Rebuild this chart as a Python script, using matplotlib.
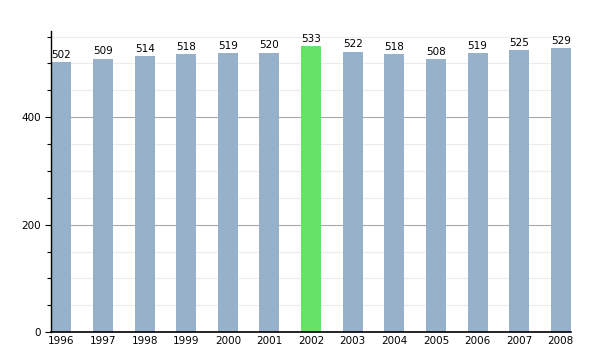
import matplotlib
matplotlib.use('Agg')
import matplotlib.pyplot as plt
from matplotlib.ticker import MultipleLocator

# population by year
years = ['1996', '1997', '1998', '1999', '2000', '2001', '2002',
         '2003', '2004', '2005', '2006', '2007', '2008']
population = [502, 509, 514, 518, 519, 520, 533, 522, 518, 508, 519, 525, 529]
highlight = '2002'

bar_color = '#98b1cb'
hl_color = '#66e366'
colors = [hl_color if y == highlight else bar_color for y in years]

fig = plt.figure(figsize=(6, 3.5), dpi=100)
ax = fig.add_axes([0.085, 0.051, 0.867, 0.86])

x = range(len(years))
ax.bar(x, population, width=0.48, color=colors, zorder=3)
for i, v in zip(x, population):
    ax.text(i, v + 4, str(v), ha='center', va='bottom', fontsize=7.5, zorder=4)

ax.set_xlim(-0.25, len(years) - 0.75)
ax.set_ylim(0, 560)
ax.set_xticks(list(x))
ax.set_xticklabels(years, fontsize=7.5)
ax.yaxis.set_major_locator(MultipleLocator(200))
ax.yaxis.set_minor_locator(MultipleLocator(50))
ax.tick_params(axis='y', which='major', labelsize=7.5, length=4, width=0.8)
ax.tick_params(axis='y', which='minor', length=3, width=0.8)
ax.tick_params(axis='x', length=0, pad=3)

ax.grid(axis='y', which='major', color='#a8a8a8', linewidth=0.8, zorder=0)
ax.grid(axis='y', which='minor', color='#ececec', linewidth=0.8, zorder=0)
ax.set_axisbelow(True)

ax.spines['top'].set_visible(False)
ax.spines['right'].set_visible(False)
ax.spines['left'].set_linewidth(1.0)
ax.spines['bottom'].set_linewidth(1.2)
ax.spines['bottom'].set_zorder(5)
ax.spines['left'].set_zorder(5)

fig.savefig('out.png', dpi=100)
